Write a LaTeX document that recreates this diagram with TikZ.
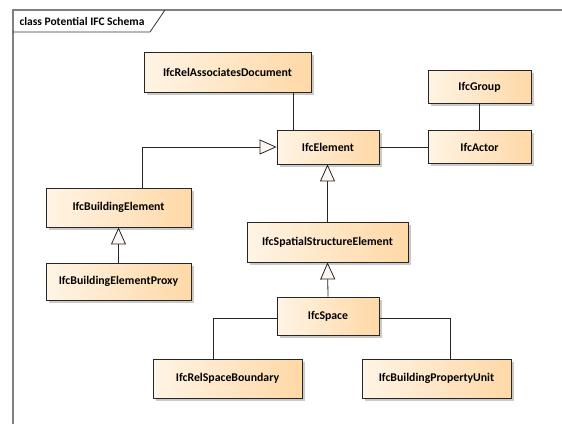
\documentclass[tikz,border=0pt]{standalone}
\usepackage{fontspec}
\setmainfont{Carlito}
\usepackage{tikz}
\usetikzlibrary{arrows.meta,positioning,shadows}
\definecolor{ifcLight}{RGB}{255,244,229}
\definecolor{ifcDark}{RGB}{255,216,166}
\definecolor{tipFill}{RGB}{253,245,242}
\definecolor{frameGray}{RGB}{128,128,128}

\begin{document}
\begin{tikzpicture}[
    x=1pt, y=-1pt,
    font=\bfseries\fontsize{11.8}{14}\selectfont,
    class/.style={
		rectangle,
		draw=black!85,
		thick,
		left color=ifcLight,
		right color=ifcDark,
		text centered,
		drop shadow={shadow xshift=2.5pt, shadow yshift=-2.5pt, fill=black!35, opacity=0.6}
	},
	gen/.style={
		-{Triangle[length=17pt, width=15pt, fill=tipFill, line width=0.8pt]}
	},
	assoc/.style={
		draw=black!85, thick
	}
  ]
  \useasboundingbox (0,0) rectangle (562,424);

  % the frame and its title
  \draw [frameGray, line width=1.4pt] (13,424) -- (13,10) -- (562,10);
  \draw [black!80, thick] (13,32) -- (150,32) -- (165,10);
  \node [anchor=west, font=\bfseries\fontsize{11.5}{13}\selectfont] (title) at (16,21) {class Potential IFC Schema};

  % classes
  \node [class, minimum width=167pt, minimum height=40pt] (doc) at (227.5,72) {IfcRelAssociatesDocument};
  \node [class, minimum width=102pt, minimum height=34pt] (elem) at (328,147) {IfcElement};
  \node [class, minimum width=103pt, minimum height=33pt] (group) at (479.5,87) {IfcGroup};
  \node [class, minimum width=103pt, minimum height=33pt] (actor) at (479.5,147) {IfcActor};
  \node [class, minimum width=145pt, minimum height=39pt] (bldg) at (118.5,207.5) {IfcBuildingElement};
  \node [class, minimum width=145pt, minimum height=37pt] (proxy) at (118.5,281.5) {IfcBuildingElementProxy};
  \node [class, minimum width=161pt, minimum height=40pt] (spatial) at (327.5,242) {IfcSpatialStructureElement};
  \node [class, minimum width=102pt, minimum height=38pt] (space) at (328,316) {IfcSpace};
  \node [class, minimum width=149pt, minimum height=39pt] (bound) at (227.5,378.5) {IfcRelSpaceBoundary};
  \node [class, minimum width=149pt, minimum height=39pt] (unit) at (436.5,378.5) {IfcBuildingPropertyUnit};

  % associations
  \draw [assoc] ([xshift=65.5pt]doc.south) -- ([xshift=65.5pt]doc.south |- elem.north);
  \draw [assoc] (elem.east) -- (actor.west);
  \draw [assoc] (group.south) -- (actor.north);
  \draw [assoc] ([yshift=-2pt]space.west) -| ([xshift=-14.5pt]bound.north);
  \draw [assoc] ([yshift=-2pt]space.east) -| ([xshift=13.5pt]unit.north);

  % generalisations
  \draw [assoc, gen] ([xshift=23.5pt]bldg.north) |- (elem.west);
  \draw [assoc, gen] (spatial.north) -- (spatial.north |- elem.south);
  \draw [assoc, gen] (proxy.north) -- (bldg.south);
  \draw [assoc, gen] (space.north) -- (spatial.south);
\end{tikzpicture}
\end{document}
